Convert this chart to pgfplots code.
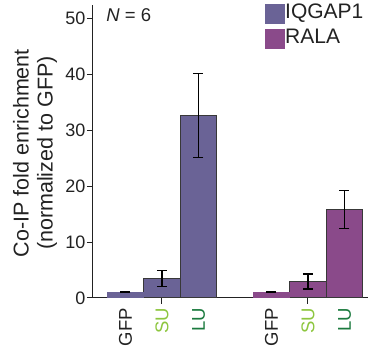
\documentclass[border=0pt]{standalone}
\usepackage{pgfplots}
\pgfplotsset{compat=1.18}
\usepackage{fontspec}
\setmainfont{Liberation Sans}
\definecolor{iq}{HTML}{6A6396}
\definecolor{ra}{HTML}{8A4A8A}
\definecolor{edge}{HTML}{383838}
\definecolor{su}{HTML}{8DC63F}
\definecolor{lu}{HTML}{1B7A3E}
\definecolor{txt}{HTML}{222222}
\newcommand{\xl}[2]{\textcolor{#1}{#2}}
\pgfplotsset{
  errs/.style={
    error bars/y dir=both, error bars/y explicit,
    error bars/error bar style={line width=1.5pt, black},
    error bars/error mark options={rotate=90, line width=1.5pt, black, mark size=5pt},
  }
}
\begin{document}
\begin{tikzpicture}
\begin{axis}[
  scale only axis, width=275pt, height=293.3pt,
  xmin=-0.89, xmax=6.644, ymin=0, ymax=52.44,
  axis x line*=bottom, axis y line*=left,
  axis line style={txt, line width=1pt},
  tick align=outside, major tick length=6pt,
  tick style={txt, line width=1pt},
  ytick={0,10,20,30,40,50},
  xtick={1,5}, xticklabels={},
  extra x ticks={0,1,2,4,5,6},
  extra x tick labels={\xl{txt}{GFP},\xl{su}{SU},\xl{lu}{LU},\xl{txt}{GFP},\xl{su}{SU},\xl{lu}{LU}},
  extra x tick style={major tick length=0pt, xticklabel style={rotate=90, anchor=east, inner sep=10pt, font=\fontsize{18.5}{22}\selectfont}},
  /pgf/number format/assume math mode=true,
  tick label style={font=\fontsize{18}{21}\selectfont, text=txt},
  yticklabel style={inner sep=1.5pt},
  every axis y label/.style={at={([xshift=-58pt]axis description cs:0,0.494)}, rotate=90, anchor=center, align=center, font=\fontsize{21.5}{24}\selectfont, text=txt},
  ylabel={Co-IP fold enrichment\\(normalized to GFP)},
  legend style={at={(axis description cs:0.6255,1.0024)}, anchor=north west, draw=none, fill=none, inner sep=0pt, row sep=5pt, column sep=0pt, font=\fontsize{21}{25}\selectfont, text=txt, nodes={inner sep=0pt}},
  legend cell align=left,
  legend image code/.code={\fill[#1,draw=none] (0,-12pt) rectangle (20pt,8pt);},
]
% IQGAP1
\addplot[ybar, bar width=1, bar shift=0pt, fill=iq, draw=edge, line width=1pt, errs]
  table[x=x, y=y, y error=e] {
x y e
1 3.5 1.4
2 32.6 7.5
};
\addlegendentry{IQGAP1}
\addplot[ybar, bar width=1, bar shift=0pt, fill=iq, draw=none, forget plot, errs]
  table[x=x, y=y, y error=e] {
x y e
0 1.0 0.05
};
% RALA
\addplot[ybar, bar width=1, bar shift=0pt, fill=ra, draw=edge, line width=1pt, errs]
  table[x=x, y=y, y error=e] {
x y e
5 2.95 1.35
6 15.8 3.4
};
\addlegendentry{RALA}
\addplot[ybar, bar width=1, bar shift=0pt, fill=ra, draw=none, forget plot, errs]
  table[x=x, y=y, y error=e] {
x y e
4 1.0 0.05
};
\node[anchor=base west, font=\fontsize{18.5}{21}\selectfont, text=txt] at (axis description cs:0.036,0.942) {\textit{N} = 6};
\end{axis}
\pgfresetboundingbox
\path[use as bounding box] (-93pt,-58pt) rectangle (277pt,298pt);
\end{tikzpicture}
\end{document}
